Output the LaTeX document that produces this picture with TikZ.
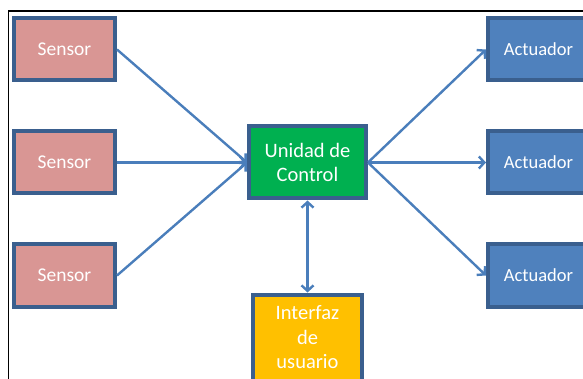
\documentclass[tikz,border=0pt]{standalone}
\usepackage{fontspec}
\setmainfont{Carlito}
\usepackage{xcolor}
\usetikzlibrary{positioning, arrows.meta}
\definecolor{bordeazul}{HTML}{3A5F8E}
\definecolor{rosasensor}{HTML}{D99694}
\definecolor{verdecontrol}{HTML}{00B050}
\definecolor{amarilloui}{HTML}{FFC000}
\definecolor{azulact}{HTML}{4F81BD}
\definecolor{flecha}{HTML}{4A7EBB}

\begin{document}
\begin{tikzpicture}[x=1pt, y=1pt,
    caja/.style={draw=bordeazul, line width=4pt, text=white, align=center, inner sep=2pt},
    sensorbox/.style={caja, fill=rosasensor, minimum width=101pt, minimum height=62pt,
      font=\fontsize{19.5}{23}\selectfont},
    actbox/.style={caja, fill=azulact, minimum width=101pt, minimum height=62pt,
      font=\fontsize{18.5}{22}\selectfont},
    ctrlbox/.style={caja, fill=verdecontrol, minimum width=117pt, minimum height=72pt,
      font=\fontsize{20.5}{24}\selectfont},
    uibox/.style={caja, fill=amarilloui, minimum width=109pt, minimum height=86pt,
      font=\fontsize{20.5}{24.5}\selectfont},
    conector/.style={draw=flecha, line width=2.4pt},
    >={Straight Barb[length=5.5pt,width=12pt]},
    node distance=47pt]
    \useasboundingbox (0,0) rectangle (583,-379);
    \clip (0,0) rectangle (583,-379);

    % marco
    \draw[line width=1.6pt] (8.3,-400) -- (8.3,-11) -- (600,-11);

    \node[sensorbox] (s1) at (64.5,-49.5) {Sensor};
    \node[sensorbox, below=of s1] (s2) {Sensor};
    \node[sensorbox, below=of s2] (s3) {Sensor};
    \node[ctrlbox, right=130pt of s2] (ctrl) {Unidad de\\Control};
    \node[actbox, right=118pt of ctrl] (a2) {Actuador};
    \node[actbox, above=of a2] (a1) {Actuador};
    \node[actbox, below=of a2] (a3) {Actuador};
    \node[uibox, below=92pt of ctrl] (ui) {Interfaz\\de\\usuario};

    \draw[conector,->] (s1.east) -- (ctrl.west);
    \draw[conector,->] (s2.east) -- (ctrl.west);
    \draw[conector,->] (s3.east) -- (ctrl.west);
    \draw[conector,->] (ctrl.east) -- (a1.west);
    \draw[conector,->] (ctrl.east) -- (a2.west);
    \draw[conector,->] (ctrl.east) -- (a3.west);
    \draw[conector,<->] (ctrl) -- (ui);
\end{tikzpicture}
\end{document}
